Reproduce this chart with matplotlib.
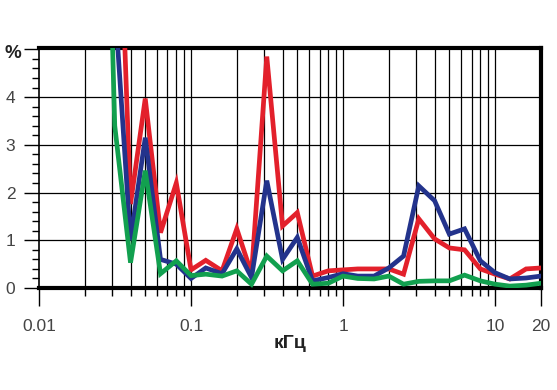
import numpy as np
import matplotlib.pyplot as plt
from matplotlib.ticker import FixedLocator, NullFormatter

# 1/3-octave frequencies, kHz
freq = [0.025, 0.0315, 0.04, 0.05, 0.063, 0.08, 0.1, 0.125, 0.16, 0.2, 0.25,
        0.315, 0.4, 0.5, 0.63, 0.8, 1.0, 1.25, 1.6, 2.0, 2.5, 3.15, 4.0, 5.0,
        6.3, 8.0, 10.0, 12.5, 16.0, 20.0]

red = [18.0, 10.9, 1.76, 3.97, 1.16, 2.2, 0.38, 0.58, 0.36, 1.24, 0.3,
       4.85, 1.3, 1.58, 0.25, 0.36, 0.38, 0.4, 0.4, 0.4, 0.29, 1.45, 1.03, 0.84,
       0.8, 0.4, 0.29, 0.19, 0.4, 0.42]
blue = [15.0, 6.0, 1.0, 3.15, 0.6, 0.5, 0.2, 0.42, 0.3, 0.82, 0.22,
        2.25, 0.6, 1.06, 0.15, 0.22, 0.3, 0.25, 0.25, 0.42, 0.67, 2.14, 1.83, 1.13,
        1.24, 0.57, 0.32, 0.19, 0.21, 0.25]
green = [15.0, 3.4, 0.53, 2.46, 0.3, 0.57, 0.26, 0.29, 0.25, 0.36, 0.08,
         0.67, 0.36, 0.57, 0.08, 0.1, 0.25, 0.2, 0.19, 0.25, 0.08, 0.14, 0.15, 0.15,
         0.27, 0.15, 0.08, 0.04, 0.06, 0.1]

y_ticks = [0, 1, 2, 3, 4]
x_ticks = [0.01, 0.1, 1, 10, 20]
x_labels = ['0.01', '0.1', '1', '10', '20']

plt.rcParams['font.family'] = ['Liberation Sans', 'DejaVu Sans']

fig = plt.figure(figsize=(5.57, 3.90), dpi=100)
ax = fig.add_axes([0.070, 0.2615, 0.901, 0.6155])

ax.plot(freq, red, color='#e3202b', lw=3.4, solid_joinstyle='miter', zorder=3)
ax.plot(freq, blue, color='#23338c', lw=3.4, solid_joinstyle='miter', zorder=4)
ax.plot(freq, green, color='#12a04f', lw=3.4, solid_joinstyle='miter', zorder=5)

ax.set_xscale('log')
ax.set_xlim(0.01, 20)
ax.set_ylim(0, 5.03)

minor_x = [m * d for d in (0.01, 0.1, 1) for m in range(2, 10)]
ax.xaxis.set_major_locator(FixedLocator(x_ticks))
ax.xaxis.set_minor_locator(FixedLocator(minor_x))
ax.set_xticklabels(x_labels)
ax.xaxis.set_minor_formatter(NullFormatter())

ax.yaxis.set_major_locator(FixedLocator(y_ticks + [5]))
ax.set_yticklabels([str(v) for v in y_ticks] + [''])
ax.yaxis.set_minor_locator(FixedLocator(np.arange(0.2, 5.0, 0.2)))

# grid
for xv in minor_x + [0.1, 1, 10]:
    ax.axvline(xv, color='black', lw=0.9, zorder=1)
for yv in [1, 2, 3, 4]:
    ax.axhline(yv, color='black', lw=0.9, zorder=1)

ax.tick_params(axis='x', which='major', direction='out', length=13, width=1,
               pad=9, labelsize=12.5, labelcolor='#444444')
ax.tick_params(axis='x', which='minor', direction='out', length=6, width=1)
ax.tick_params(axis='y', which='major', direction='out', length=11, width=1,
               pad=6, labelsize=12.5, labelcolor='#444444')
ax.tick_params(axis='y', which='minor', direction='out', length=5, width=1)

for side in ('top', 'bottom', 'right'):
    ax.spines[side].set_linewidth(3)
ax.spines['left'].set_linewidth(1.2)

fig.text(0.008, 0.862, '%', fontsize=13.5, fontweight='bold', color='#222222',
         va='center', ha='left')
ax.set_xlabel('кГц', fontsize=14, fontweight='bold', color='#222222', labelpad=1)

fig.savefig('out.png', dpi=100)
